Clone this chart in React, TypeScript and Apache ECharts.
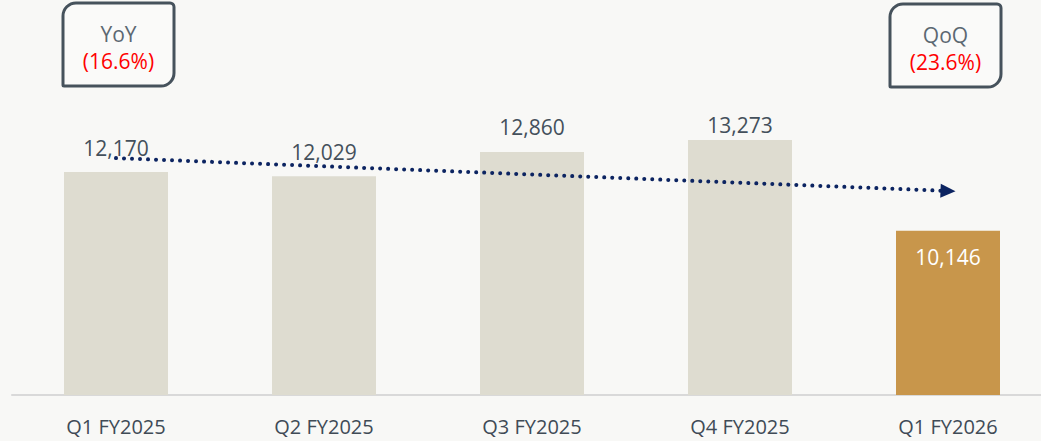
import React, { useEffect, useRef } from "react";
import * as echarts from "echarts";

const categories = ["Q1 FY2025", "Q2 FY2025", "Q3 FY2025", "Q4 FY2025", "Q1 FY2026"];
const values = [12170, 12029, 12860, 13273, 10146];
const trendStart = 12650;
const trendEnd = 11520;
const yoyLabel = "YoY";
const yoyValue = "(16.6%)";
const qoqLabel = "QoQ";
const qoqValue = "(23.6%)";

const FONT = "'Open Sans', 'Noto Sans', sans-serif";
const GREY_BAR = "#dedcd0";
const GOLD_BAR = "#c8964b";
const LABEL = "#44505b";

function badge(x: number, y: number, w: number, h: number, title: string, val: string) {
  return {
    type: "group",
    x,
    y,
    silent: true,
    children: [
      {
        type: "rect",
        shape: { x: 0, y: 0, width: w, height: h, r: [13, 4, 13, 1] },
        style: { fill: "rgba(255,255,255,0.35)", stroke: "#46525c", lineWidth: 3 },
      },
      {
        type: "text",
        x: w / 2,
        y: 31,
        style: {
          text: title,
          fill: "#5c6872",
          font: `21px ${FONT}`,
          align: "center",
          verticalAlign: "middle",
        },
      },
      {
        type: "text",
        x: w / 2,
        y: 58,
        style: {
          text: val,
          fill: "#ff0000",
          font: `21px ${FONT}`,
          align: "center",
          verticalAlign: "middle",
        },
      },
    ],
  };
}

export default function App() {
  const ref = useRef<HTMLDivElement>(null);
  useEffect(() => {
    if (!ref.current) return;
    const chart = echarts.init(ref.current, null, { renderer: "svg" });
    const data = values.map((v, i) => {
      const last = i === values.length - 1;
      return {
        value: v,
        itemStyle: { color: last ? GOLD_BAR : GREY_BAR },
        label: last
          ? { position: "insideTop", distance: 16, color: "#ffffff" }
          : { position: "top", distance: i === 3 ? 4 : 14, color: LABEL },
      };
    });
    chart.setOption({
      animation: false,
      backgroundColor: "#f8f8f6",
      grid: { left: 12, right: 0, top: 20, bottom: 46 },
      xAxis: {
        type: "category",
        data: categories,
        axisLine: { lineStyle: { color: "#d9d9d9", width: 2 } },
        axisTick: { show: false },
        axisLabel: {
          color: "#404b56",
          fontFamily: FONT,
          fontSize: 20,
          margin: 21,
        },
      },
      yAxis: {
        type: "value",
        min: 4500,
        max: 17400,
        show: false,
        splitLine: { show: false },
      },
      series: [
        {
          type: "bar",
          data,
          barWidth: "50%",
          silent: true,
          label: {
            show: true,
            fontFamily: FONT,
            fontSize: 21,
            formatter: (p: any) => Number(p.value).toLocaleString("en-US"),
          },
          markLine: {
            silent: true,
            symbol: ["none", "triangle"],
            symbolSize: [14, 15],
            label: { show: false },
            lineStyle: {
              color: "#0c2461",
              width: 4,
              type: [0.01, 8],
              cap: "round",
              opacity: 1,
            },
            emphasis: { disabled: true },
            data: [
              [
                { coord: [categories[0], trendStart] },
                { coord: [categories[4], trendEnd] },
              ],
            ],
          },
        },
      ],
      graphic: [
        badge(63, 3, 111, 83, yoyLabel, yoyValue),
        badge(890, 4, 111, 83, qoqLabel, qoqValue),
      ],
    });
    return () => chart.dispose();
  }, []);
  return (
    <div
      style={{
        position: "fixed",
        left: 0,
        top: 0,
        width: 1041,
        height: 441,
        overflow: "hidden",
      }}
    >
      <div ref={ref} style={{ width: 1052, height: 441 }} />
    </div>
  );
}
